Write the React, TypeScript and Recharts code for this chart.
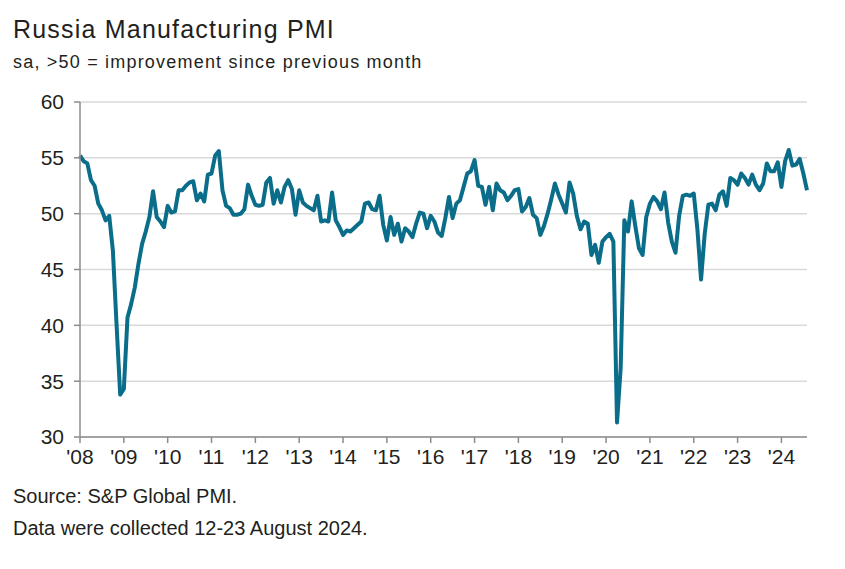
import React from 'react';
import { LineChart, Line, XAxis, YAxis, CartesianGrid } from 'recharts';

// Russia Manufacturing PMI, monthly
const pmi2008 = [55.2, 54.7, 54.5, 53.0, 52.5, 50.9, 50.3, 49.4, 49.8, 46.7, 40.1, 33.8];
const pmi2009 = [34.3, 40.7, 41.9, 43.4, 45.5, 47.3, 48.4, 49.7, 52.0, 49.7, 49.3, 48.8];
const pmi2010 = [50.7, 50.1, 50.2, 52.1, 52.1, 52.5, 52.8, 52.9, 51.2, 51.8, 51.1, 53.5];
const pmi2011 = [53.6, 55.2, 55.6, 52.1, 50.7, 50.5, 49.9, 49.9, 50.0, 50.4, 52.6, 51.6];
const pmi2012 = [50.8, 50.7, 50.8, 52.8, 53.2, 50.9, 52.1, 51.0, 52.4, 53.0, 52.2, 49.9];
const pmi2013 = [52.1, 51.0, 50.7, 50.5, 50.3, 51.6, 49.3, 49.4, 49.3, 51.9, 49.4, 48.8];
const pmi2014 = [48.1, 48.5, 48.4, 48.7, 49.0, 49.3, 50.9, 51.0, 50.4, 50.3, 51.6, 49.0];
const pmi2015 = [47.6, 49.7, 48.1, 49.1, 47.5, 48.7, 48.4, 47.9, 49.1, 50.1, 50.0, 48.7];
const pmi2016 = [49.8, 49.3, 48.3, 48.0, 49.6, 51.5, 49.6, 50.9, 51.2, 52.4, 53.6, 53.8];
const pmi2017 = [54.8, 52.5, 52.4, 50.8, 52.4, 50.3, 52.7, 52.1, 51.9, 51.2, 51.6, 52.1];
const pmi2018 = [52.2, 50.2, 50.6, 51.4, 49.9, 49.6, 48.1, 48.9, 50.0, 51.3, 52.7, 51.7];
const pmi2019 = [50.9, 50.1, 52.8, 51.8, 49.8, 48.6, 49.3, 49.1, 46.3, 47.2, 45.6, 47.5];
const pmi2020 = [47.9, 48.2, 47.5, 31.3, 36.2, 49.4, 48.4, 51.1, 48.9, 46.9, 46.3, 49.7];
const pmi2021 = [50.9, 51.5, 51.1, 50.4, 51.9, 49.2, 47.5, 46.5, 49.8, 51.6, 51.7, 51.6];
const pmi2022 = [51.8, 48.6, 44.1, 48.2, 50.8, 50.9, 50.3, 51.7, 52.0, 50.7, 53.2, 53.0];
const pmi2023 = [52.6, 53.6, 53.2, 52.6, 53.5, 52.6, 52.1, 52.7, 54.5, 53.8, 53.8, 54.6];
const pmi2024 = [52.4, 54.7, 55.7, 54.3, 54.4, 54.9, 53.6, 52.1];

const YEARS = ['2008', '2009', '2010', '2011', '2012', '2013', '2014', '2015', '2016',
  '2017', '2018', '2019', '2020', '2021', '2022', '2023', '2024'];
const SERIES_BY_YEAR = [pmi2008, pmi2009, pmi2010, pmi2011, pmi2012, pmi2013, pmi2014, pmi2015,
  pmi2016, pmi2017, pmi2018, pmi2019, pmi2020, pmi2021, pmi2022, pmi2023, pmi2024];
const Y_TICKS = [30, 35, 40, 45, 50, 55, 60];

const chartData = YEARS.flatMap((year, yi) =>
  SERIES_BY_YEAR[yi].map((value, m) => ({
    month: `${year}-${String(m + 1).padStart(2, '0')}`,
    value,
  }))
);
const xTicks = YEARS.map((y) => `${y}-01`);

const LINE_COLOR = '#0a6d8a';
const AXIS_COLOR = '#8c8c8c';
const TEXT_COLOR = '#231f20';
const SANS = "'Liberation Sans', Arial, sans-serif";

export default function App() {
  return (
    <div style={{ position: 'absolute', left: 0, top: 0, width: 845, height: 569, background: '#fff' }}>
      <div style={{ position: 'absolute', left: 13, top: 15, fontFamily: SANS, fontSize: 25, letterSpacing: 1.2, color: TEXT_COLOR, whiteSpace: 'nowrap' }}>
        Russia Manufacturing PMI
      </div>
      <div style={{ position: 'absolute', left: 13, top: 52, fontFamily: SANS, fontSize: 18, letterSpacing: 1.2, color: TEXT_COLOR, whiteSpace: 'nowrap' }}>
        sa, &gt;50 = improvement since previous month
      </div>

      <div style={{ position: 'absolute', left: 0, top: 0 }}>
        <LineChart
          width={845}
          height={569}
          data={chartData}
          margin={{ top: 102, right: 38, bottom: 92, left: 0 }}
        >
          <CartesianGrid vertical={false} stroke="#d9d9d9" strokeWidth={1.5} />
          <XAxis
            dataKey="month"
            ticks={xTicks}
            interval={0}
            tickFormatter={(v: string) => `'${v.slice(2, 4)}`}
            axisLine={{ stroke: AXIS_COLOR, strokeWidth: 1.5 }}
            tickLine={{ stroke: AXIS_COLOR, strokeWidth: 1.5 }}
            tickSize={6}
            tickMargin={6}
            height={40}
            tick={{ fill: TEXT_COLOR, fontSize: 21, fontFamily: SANS }}
          />
          <YAxis
            domain={[30, 60]}
            ticks={Y_TICKS}
            interval={0}
            axisLine={{ stroke: AXIS_COLOR, strokeWidth: 1.5 }}
            tickLine={{ stroke: AXIS_COLOR, strokeWidth: 1.5 }}
            tickSize={6}
            tickMargin={10}
            width={80}
            tick={{ fill: TEXT_COLOR, fontSize: 21, fontFamily: SANS }}
          />
          <Line
            type="linear"
            dataKey="value"
            stroke={LINE_COLOR}
            strokeWidth={4}
            strokeLinejoin="round"
            dot={false}
            isAnimationActive={false}
          />
        </LineChart>
      </div>

      <div style={{ position: 'absolute', left: 13, top: 485, fontFamily: SANS, fontSize: 20, color: TEXT_COLOR, whiteSpace: 'nowrap' }}>
        Source: S&amp;P Global PMI.
      </div>
      <div style={{ position: 'absolute', left: 13, top: 517, fontFamily: SANS, fontSize: 20, color: TEXT_COLOR, whiteSpace: 'nowrap' }}>
        Data were collected 12-23 August 2024.
      </div>
    </div>
  );
}
